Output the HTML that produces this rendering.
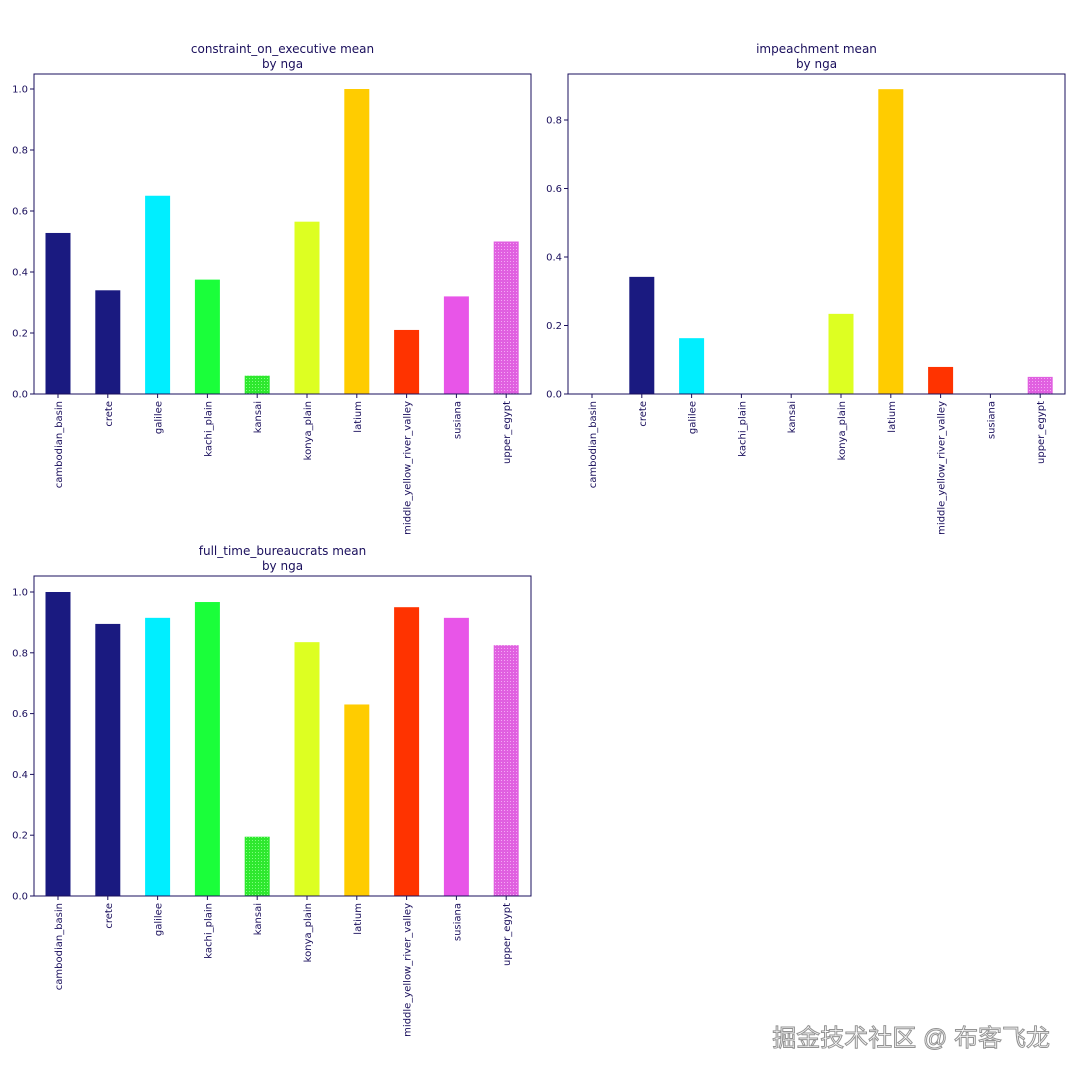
<!DOCTYPE html>
<html><head><meta charset="utf-8"><style>
body{margin:0;background:#fff;width:1080px;height:1080px;overflow:hidden}
svg{font-family:"DejaVu Sans","Liberation Sans",sans-serif}
</style></head><body>
<svg id="s" width="1080" height="1080" xmlns="http://www.w3.org/2000/svg">
<defs>
<pattern id="hg" width="3" height="3" patternUnits="userSpaceOnUse"><rect width="3" height="3" fill="#2ee82e"/><rect width="1" height="1" fill="#7fff7f"/></pattern>
<pattern id="hv" width="3" height="3" patternUnits="userSpaceOnUse"><rect width="3" height="3" fill="#e060e0"/><rect width="1" height="1" fill="#f4a8f4"/></pattern>
</defs>
<text x="1050" y="1046" text-anchor="end" font-family="'Liberation Sans','Noto Sans CJK SC',sans-serif" font-size="24" fill="#fff" stroke="#888" stroke-width="1" opacity="0.9">掘金技术社区 @ 布客飞龙</text>
</svg>
<script>
const C="#1a0f5c";
const names=["cambodian_basin","crete","galilee","kachi_plain","kansai","konya_plain","latium","middle_yellow_river_valley","susiana","upper_egypt"];
const cols=["#1a1a80","#1a1a80","#00eeff","#1aff3a","url(#hg)","#ddff22","#ffcc00","#ff3300","#e855e8","url(#hv)"];
const charts=[
 {x:34,y:74,t:"constraint_on_executive mean",per:305,ticks:[0,.2,.4,.6,.8,1.0],v:[.528,.34,.65,.375,.06,.565,1.0,.21,.32,.5]},
 {x:568,y:74,t:"impeachment mean",per:342.5,ticks:[0,.2,.4,.6,.8],v:[0,.342,.163,0,0,.234,.89,.079,0,.05]},
 {x:34,y:576,t:"full_time_bureaucrats mean",per:304,ticks:[0,.2,.4,.6,.8,1.0],v:[1.0,.895,.915,.967,.195,.835,.63,.95,.915,.825]}
];
let h="";
for(const c of charts){
 const W=497,H=320,b=c.y+H;
 const cx=c.x+W/2;
 h+=`<text x="${cx}" y="${c.y-21}" text-anchor="middle" font-size="12" fill="${C}">${c.t}</text>`;
 h+=`<text x="${cx}" y="${c.y-6}" text-anchor="middle" font-size="12" fill="${C}">by nga</text>`;
 c.v.forEach((v,i)=>{const xc=c.x+24+i*49.8;const hh=v*c.per;
  if(hh>0)h+=`<rect x="${xc-12.5}" y="${b-hh}" width="25" height="${hh}" fill="${cols[i]}"/>`;
  h+=`<line x1="${xc}" y1="${b}" x2="${xc}" y2="${b+4}" stroke="${C}"/>`;
  h+=`<text transform="translate(${xc+4},${b+7}) rotate(-90)" text-anchor="end" font-size="10" fill="${C}">${names[i]}</text>`;});
 for(const t of c.ticks){const y=b-t*c.per;
  h+=`<line x1="${c.x-4}" y1="${y}" x2="${c.x}" y2="${y}" stroke="${C}"/>`;
  h+=`<text x="${c.x-6}" y="${y+3.5}" text-anchor="end" font-size="10" fill="${C}">${t.toFixed(1)}</text>`;}
 h+=`<rect x="${c.x}" y="${c.y}" width="${W}" height="${H}" fill="none" stroke="${C}" stroke-width="1"/>`;
}
document.getElementById("s").insertAdjacentHTML("beforeend",h);
</script>
</body></html>
